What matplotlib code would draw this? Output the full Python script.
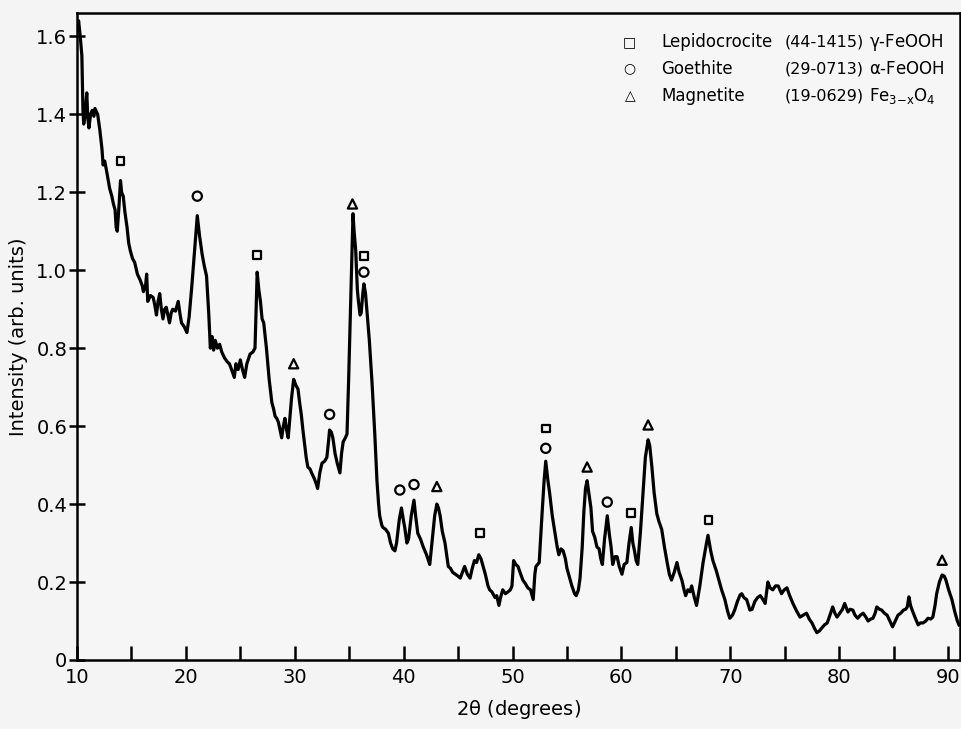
import numpy as np
import matplotlib
matplotlib.use('Agg')
import matplotlib.pyplot as plt
from matplotlib.ticker import MultipleLocator

# diffraction pattern (2theta in degrees, intensity arb. units)
two_theta = [
    10.05, 10.15, 10.3, 10.45, 10.55, 10.62, 10.75, 10.9, 11.0, 11.1, 11.25, 11.4, 11.55, 11.65, 11.9,
    12.1, 12.3, 12.4, 12.55, 12.75, 13.0, 13.2, 13.35, 13.5, 13.6, 13.7, 13.85, 14.0, 14.1, 14.25,
    14.4, 14.6, 14.75, 14.9, 15.1, 15.3, 15.55, 15.8, 16.0, 16.1, 16.3, 16.4, 16.5, 16.75, 17.0,
    17.15, 17.3, 17.45, 17.6, 17.75, 17.9, 18.05, 18.2, 18.35, 18.5, 18.65, 18.8, 19.05, 19.3, 19.45,
    19.6, 19.85, 20.1, 20.3, 20.55, 20.8, 21.05, 21.25, 21.5, 21.7, 21.9, 22.1, 22.25, 22.4, 22.55,
    22.7, 22.9, 23.1, 23.3, 23.55, 23.8, 24.0, 24.2, 24.45, 24.6, 24.8, 25.0, 25.2, 25.4, 25.6,
    25.9, 26.15, 26.35, 26.55, 26.7, 26.85, 27.0, 27.15, 27.4, 27.65, 27.9, 28.05, 28.2, 28.35, 28.5,
    28.65, 28.8, 28.95, 29.1, 29.25, 29.4, 29.55, 29.7, 29.9, 30.1, 30.3, 30.45, 30.6, 30.75, 30.9,
    31.05, 31.2, 31.4, 31.55, 31.8, 32.0, 32.1, 32.3, 32.5, 32.75, 32.95, 33.1, 33.2, 33.35, 33.5,
    33.7, 33.9, 34.05, 34.15, 34.3, 34.45, 34.65, 34.8, 34.95, 35.1, 35.25, 35.35, 35.45, 35.6, 35.75,
    35.85, 36.0, 36.1, 36.25, 36.35, 36.5, 36.6, 36.85, 37.1, 37.35, 37.55, 37.7, 37.8, 38.0, 38.1,
    38.35, 38.6, 38.8, 39.0, 39.2, 39.35, 39.6, 39.8, 40.0, 40.1, 40.3, 40.45, 40.7, 40.95, 41.1,
    41.3, 41.55, 41.8, 42.1, 42.4, 42.6, 42.85, 43.05, 43.2, 43.35, 43.55, 43.8, 44.0, 44.1, 44.3,
    44.5, 44.75, 45.0, 45.2, 45.4, 45.6, 45.85, 46.1, 46.3, 46.5, 46.7, 46.9, 47.1, 47.3, 47.5,
    47.75, 47.9, 48.1, 48.4, 48.55, 48.75, 48.9, 49.1, 49.35, 49.6, 49.8, 49.95, 50.1, 50.3, 50.5,
    50.75, 50.95, 51.2, 51.4, 51.65, 51.9, 52.05, 52.15, 52.45, 52.7, 52.9, 53.05, 53.25, 53.4, 53.65,
    53.9, 54.1, 54.25, 54.45, 54.65, 54.85, 55.0, 55.2, 55.45, 55.7, 55.85, 56.05, 56.2, 56.4, 56.55,
    56.7, 56.85, 57.0, 57.2, 57.35, 57.55, 57.75, 57.95, 58.1, 58.25, 58.45, 58.7, 58.9, 59.05, 59.2,
    59.4, 59.6, 59.8, 60.05, 60.25, 60.5, 60.7, 60.9, 61.05, 61.2, 61.35, 61.5, 61.75, 62.0, 62.2,
    62.45, 62.6, 62.8, 63.0, 63.25, 63.45, 63.7, 63.95, 64.2, 64.4, 64.6, 64.85, 65.1, 65.3, 65.55,
    65.75, 65.9, 66.1, 66.3, 66.45, 66.7, 66.9, 67.2, 67.5, 67.75, 67.95, 68.2, 68.4, 68.7, 68.95,
    69.2, 69.5, 69.75, 69.95, 70.2, 70.4, 70.65, 70.9, 71.05, 71.25, 71.5, 71.8, 72.0, 72.25, 72.5,
    72.75, 73.0, 73.2, 73.45, 73.65, 73.9, 74.15, 74.4, 74.7, 74.95, 75.2, 75.45, 75.75, 76.1, 76.4,
    76.7, 77.0, 77.25, 77.5, 77.75, 77.95, 78.2, 78.4, 78.65, 78.9, 79.15, 79.4, 79.6, 79.8, 80.05,
    80.3, 80.5, 80.8, 81.0, 81.25, 81.45, 81.7, 81.95, 82.2, 82.45, 82.65, 82.9, 83.1, 83.3, 83.45,
    83.7, 83.9, 84.15, 84.4, 84.65, 84.9, 85.15, 85.4, 85.65, 85.9, 86.1, 86.25, 86.4, 86.55, 86.7,
    86.95, 87.25, 87.45, 87.7, 87.95, 88.15, 88.4, 88.6, 88.8, 88.95, 89.2, 89.45, 89.65, 89.8, 90.05,
    90.35, 90.6, 90.85, 91.0,
]
intensity = [
    1.62, 1.64, 1.60, 1.55, 1.41, 1.375, 1.40, 1.455, 1.39, 1.365, 1.40, 1.41, 1.395, 1.415, 1.40,
    1.36, 1.31, 1.27, 1.28, 1.25, 1.21, 1.19, 1.17, 1.155, 1.11, 1.10, 1.16, 1.23, 1.20, 1.19,
    1.15, 1.11, 1.07, 1.05, 1.03, 1.02, 0.99, 0.975, 0.96, 0.945, 0.96, 0.99, 0.92, 0.935, 0.93,
    0.91, 0.885, 0.92, 0.94, 0.90, 0.875, 0.90, 0.905, 0.885, 0.865, 0.89, 0.90, 0.895, 0.92, 0.89,
    0.865, 0.855, 0.84, 0.88, 0.96, 1.05, 1.14, 1.09, 1.04, 1.01, 0.985, 0.89, 0.80, 0.83, 0.795,
    0.82, 0.80, 0.81, 0.79, 0.775, 0.765, 0.76, 0.745, 0.725, 0.76, 0.745, 0.77, 0.745, 0.725, 0.76,
    0.785, 0.79, 0.80, 0.995, 0.95, 0.92, 0.875, 0.865, 0.80, 0.72, 0.66, 0.645, 0.625, 0.62, 0.61,
    0.59, 0.57, 0.60, 0.62, 0.59, 0.57, 0.62, 0.67, 0.72, 0.705, 0.695, 0.66, 0.63, 0.59, 0.555,
    0.52, 0.495, 0.49, 0.48, 0.465, 0.45, 0.44, 0.48, 0.505, 0.51, 0.52, 0.56, 0.59, 0.585, 0.57,
    0.53, 0.505, 0.49, 0.48, 0.53, 0.56, 0.57, 0.58, 0.72, 0.88, 1.05, 1.145, 1.10, 1.05, 0.95,
    0.92, 0.885, 0.89, 0.94, 0.965, 0.94, 0.905, 0.82, 0.71, 0.58, 0.46, 0.40, 0.37, 0.345, 0.34,
    0.335, 0.325, 0.30, 0.285, 0.28, 0.30, 0.36, 0.39, 0.355, 0.34, 0.30, 0.31, 0.37, 0.41, 0.37,
    0.325, 0.31, 0.29, 0.27, 0.245, 0.30, 0.37, 0.40, 0.39, 0.37, 0.33, 0.30, 0.26, 0.24, 0.235,
    0.225, 0.22, 0.215, 0.21, 0.225, 0.24, 0.22, 0.21, 0.235, 0.255, 0.25, 0.27, 0.26, 0.24, 0.22,
    0.19, 0.18, 0.175, 0.16, 0.165, 0.14, 0.16, 0.18, 0.17, 0.175, 0.18, 0.19, 0.255, 0.245, 0.24,
    0.22, 0.205, 0.195, 0.185, 0.18, 0.155, 0.22, 0.24, 0.25, 0.37, 0.46, 0.51, 0.46, 0.43, 0.37,
    0.325, 0.29, 0.27, 0.285, 0.28, 0.26, 0.235, 0.215, 0.19, 0.17, 0.165, 0.18, 0.21, 0.29, 0.38,
    0.44, 0.46, 0.43, 0.39, 0.33, 0.315, 0.29, 0.285, 0.26, 0.245, 0.31, 0.37, 0.32, 0.29, 0.245,
    0.265, 0.265, 0.24, 0.22, 0.245, 0.25, 0.30, 0.34, 0.30, 0.28, 0.255, 0.245, 0.33, 0.435, 0.52,
    0.565, 0.55, 0.495, 0.43, 0.375, 0.355, 0.335, 0.29, 0.25, 0.22, 0.205, 0.225, 0.25, 0.225, 0.205,
    0.18, 0.165, 0.18, 0.175, 0.19, 0.16, 0.14, 0.19, 0.25, 0.29, 0.32, 0.28, 0.255, 0.23, 0.205,
    0.18, 0.155, 0.125, 0.107, 0.115, 0.128, 0.15, 0.167, 0.17, 0.16, 0.155, 0.128, 0.13, 0.15, 0.16,
    0.165, 0.155, 0.145, 0.20, 0.185, 0.18, 0.19, 0.19, 0.17, 0.18, 0.185, 0.165, 0.145, 0.125, 0.11,
    0.115, 0.12, 0.105, 0.095, 0.08, 0.07, 0.075, 0.082, 0.09, 0.095, 0.115, 0.136, 0.12, 0.11, 0.12,
    0.13, 0.145, 0.123, 0.13, 0.128, 0.115, 0.107, 0.115, 0.12, 0.11, 0.10, 0.105, 0.107, 0.12, 0.136,
    0.13, 0.128, 0.12, 0.115, 0.10, 0.085, 0.10, 0.115, 0.12, 0.128, 0.13, 0.136, 0.162, 0.14, 0.128,
    0.11, 0.09, 0.095, 0.095, 0.10, 0.107, 0.105, 0.11, 0.14, 0.17, 0.20, 0.218, 0.215, 0.205, 0.18,
    0.155, 0.125, 0.10, 0.09,
]

# peak assignments (marker positions above the peaks)
lepido_x = [14.0, 26.55, 36.35, 47.0, 53.05, 60.85, 68.0]
lepido_y = [1.28, 1.04, 1.036, 0.325, 0.594, 0.376, 0.36]
goethite_x = [21.05, 33.2, 36.35, 39.65, 40.95, 53.05, 58.7]
goethite_y = [1.19, 0.63, 0.995, 0.436, 0.45, 0.543, 0.405]
magnetite_x = [29.9, 35.3, 43.05, 56.85, 62.45, 89.45]
magnetite_y = [0.76, 1.17, 0.445, 0.495, 0.603, 0.256]

legend_names = ['Lepidocrocite', 'Goethite', 'Magnetite']
legend_cards = ['(44-1415)', '(29-0713)', '(19-0629)']
legend_formulas = [r'$\gamma$-FeOOH', r'$\alpha$-FeOOH', r'Fe$_{3\mathrm{-}x}$O$_4$']
legend_symbols = ['\u25a1', '\u25cb', '\u25b3']

plt.rcParams['font.family'] = ['DejaVu Sans']
plt.rcParams['mathtext.default'] = 'regular'

fig = plt.figure(figsize=(9.62, 7.29), dpi=100)
fig.patch.set_facecolor('#f4f4f4')
ax = fig.add_axes([0.080, 0.0947, 0.918, 0.8875])
ax.set_facecolor('#f6f6f6')

ax.plot(two_theta, intensity, color='black', lw=2.3, solid_joinstyle='round')

mk = dict(facecolors='none', edgecolors='black', linewidths=1.6, zorder=3)
ax.scatter(lepido_x, lepido_y, marker='s', s=32, **mk)
ax.scatter(goethite_x, goethite_y, marker='o', s=44, **mk)
ax.scatter(magnetite_x, magnetite_y, marker='^', s=44, **mk)

ax.set_xlim(10, 91.1)
ax.set_ylim(0, 1.66)
ax.xaxis.set_major_locator(MultipleLocator(10))
ax.xaxis.set_minor_locator(MultipleLocator(5))
ax.yaxis.set_major_locator(MultipleLocator(0.2))
ax.yaxis.set_major_formatter(plt.FuncFormatter(lambda v, p: '0' if abs(v) < 1e-9 else f'{v:.1f}'))

ax.tick_params(axis='x', which='both', direction='in', length=10, width=1.8,
               labelsize=14, pad=6, top=False)
ax.tick_params(axis='y', which='major', direction='inout', length=12, width=1.8,
               labelsize=14, pad=1, right=False)
for sp in ax.spines.values():
    sp.set_linewidth(1.8)

ax.set_xlabel(r'2$\theta$ (degrees)', fontsize=14, labelpad=8)
ax.set_ylabel('Intensity (arb. units)', fontsize=14, labelpad=6)

# legend written as text columns
rows_y = [0.955, 0.914, 0.872]
for i in range(3):
    ax.text(0.626, rows_y[i], legend_symbols[i], transform=ax.transAxes,
            fontsize=10, ha='center', va='center')
    ax.text(0.662, rows_y[i], legend_names[i], transform=ax.transAxes,
            fontsize=12, va='center')
    ax.text(0.801, rows_y[i], legend_cards[i], transform=ax.transAxes,
            fontsize=11.5, va='center')
    ax.text(0.897, rows_y[i], legend_formulas[i], transform=ax.transAxes,
            fontsize=12, va='center')

fig.savefig('out.png', dpi=100, facecolor=fig.get_facecolor())
